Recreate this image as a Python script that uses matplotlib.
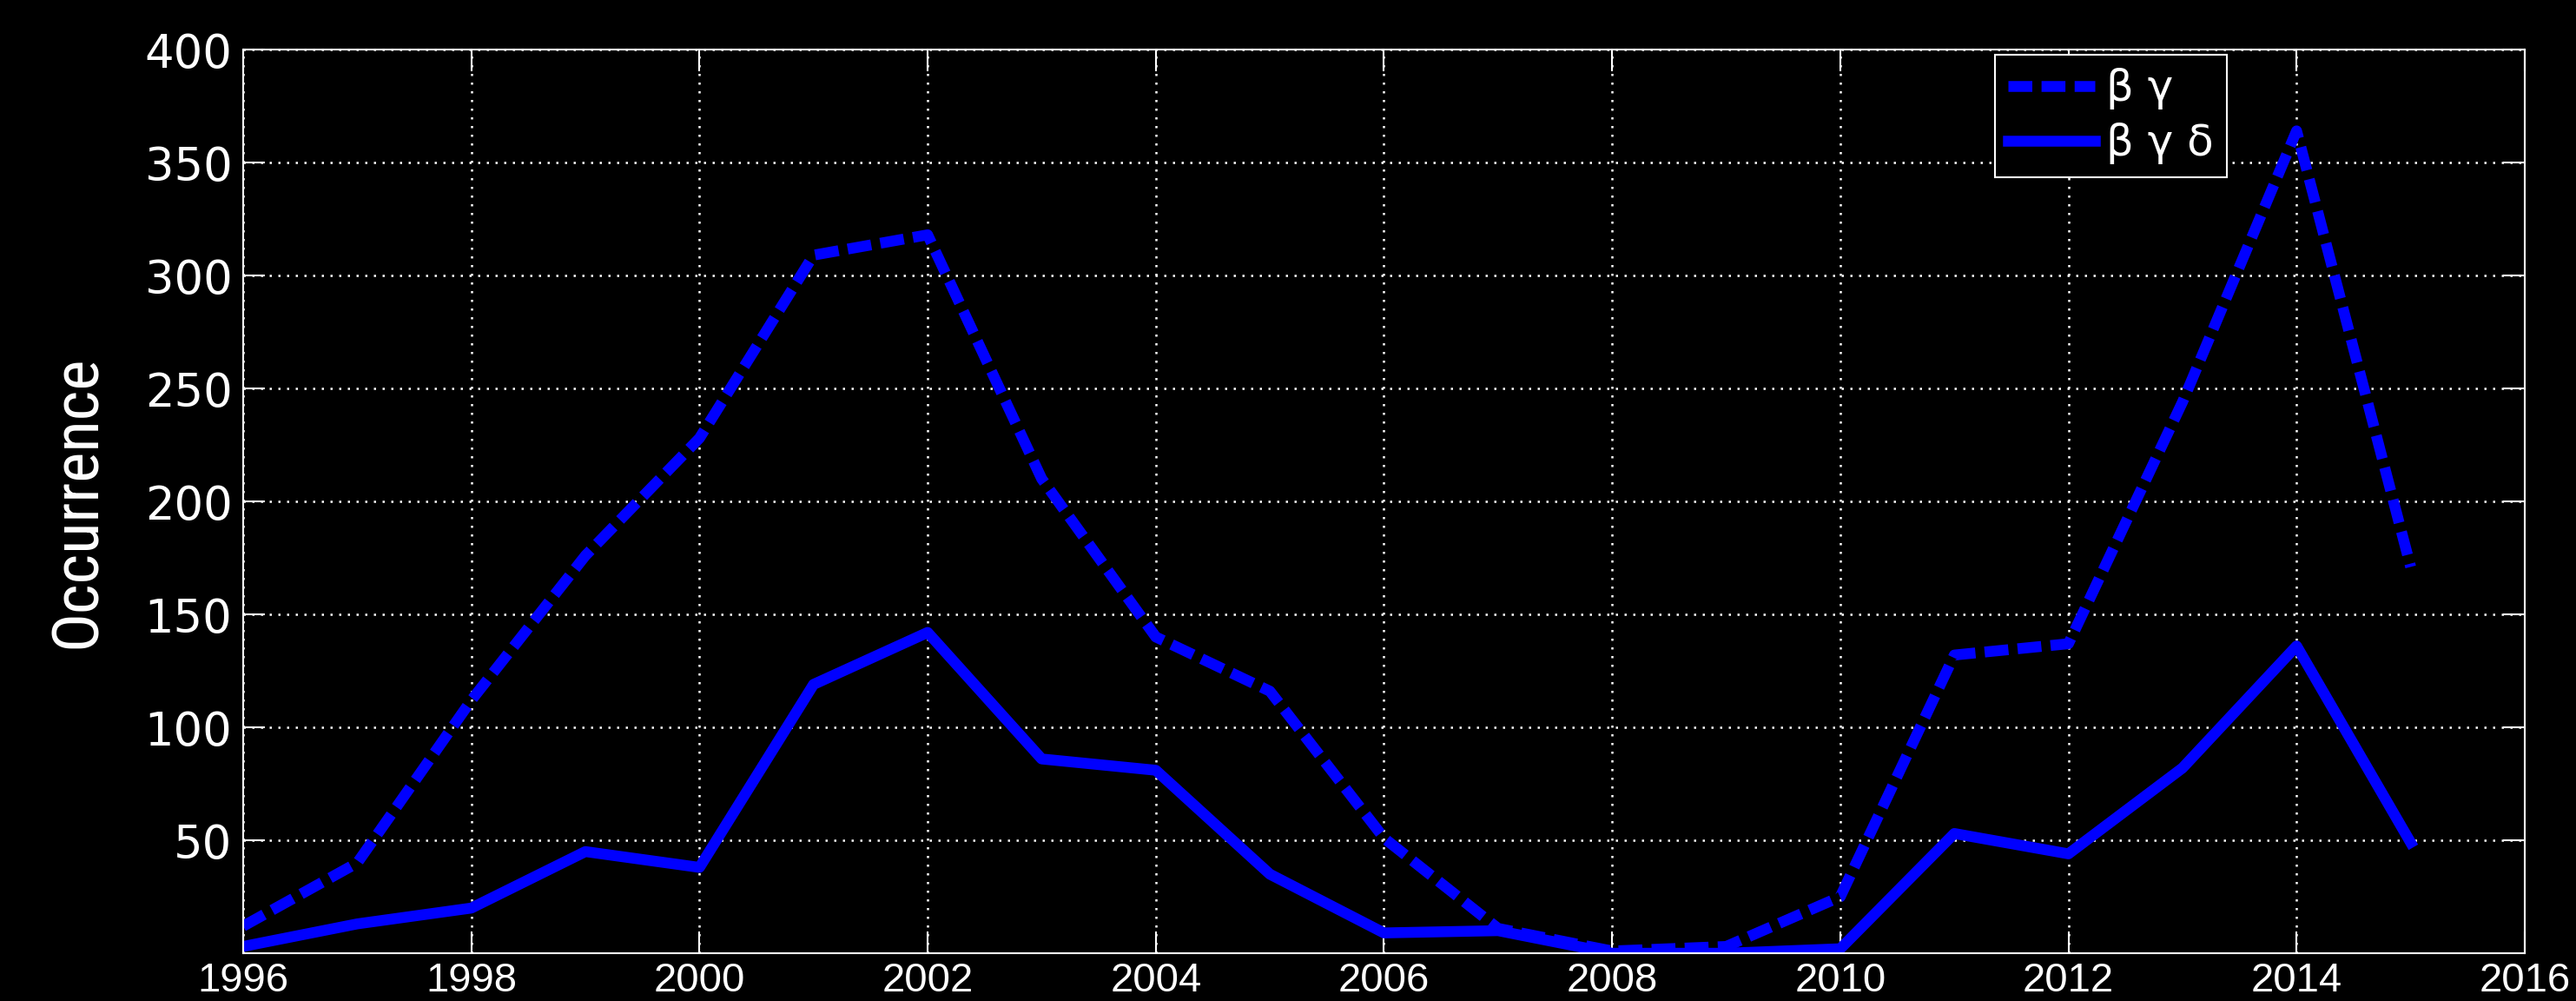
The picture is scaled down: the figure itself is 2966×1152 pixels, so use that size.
import matplotlib
matplotlib.use("Agg")
import matplotlib.pyplot as plt
from matplotlib import font_manager

years = list(range(1996, 2016))
beta_gamma = [12, 40, 112, 176, 228, 309, 318, 210, 140, 116,
              51, 11, 1, 3, 25, 132, 137, 244, 364, 171]
beta_gamma_delta = [3, 13, 20, 45, 38, 119, 142, 86, 81, 35,
                    9, 10, 0, 0, 2, 53, 44, 82, 136, 49]
labels = ["\u03b2 \u03b3", "\u03b2 \u03b3 \u03b4"]
xticks = list(range(1996, 2017, 2))
yticks = list(range(50, 401, 50))

# narrow font for the y label if we have one
names = {f.name for f in font_manager.fontManager.ttflist}
narrow = "Roboto Condensed" if "Roboto Condensed" in names else "Liberation Sans"

fig = plt.figure(figsize=(29.66, 11.52), dpi=100, facecolor="black")
ax = fig.add_axes([0.0944, 0.0477, 0.8857, 0.9028], facecolor="black")

ax.plot(years, beta_gamma, color="#0000ff", lw=9, linestyle=(0, (2.2, 0.85)),
        label=labels[0])
ax.plot(years, beta_gamma_delta, color="#0000ff", lw=9, label=labels[1])

ax.set_xlim(1996, 2016)
ax.set_ylim(0, 400)
ax.set_xticks(xticks)
ax.set_yticks(yticks)
ax.grid(True, color="white", linestyle=(0, (1, 3)), linewidth=1.8)

for s in ax.spines.values():
    s.set_color("white")
    s.set_linewidth(1.5)
ax.tick_params(direction="in", length=18, width=1.5, color="white",
               top=True, right=True, labelcolor="white")
ax.tick_params(axis="x", labelsize=34, labelfontfamily="Liberation Sans", pad=7)
ax.tick_params(axis="y", labelsize=38, labelfontfamily="DejaVu Sans", pad=9)

ax.set_ylabel("Occurrence", color="white", fontsize=54, family=narrow)
ax.yaxis.set_label_coords(-0.059, 0.5)

leg = ax.legend(loc="upper right", bbox_to_anchor=(0.8694, 0.994),
                borderaxespad=0,
                prop={"family": "DejaVu Sans", "size": 36},
                facecolor="black", edgecolor="white", fancybox=False,
                framealpha=1, handlelength=2.0, borderpad=0.3,
                labelspacing=0.3, handletextpad=0.27)
leg.get_frame().set_linewidth(1.5)
for t in leg.get_texts():
    t.set_color("white")

fig.savefig("out.png", dpi=100, facecolor="black")
